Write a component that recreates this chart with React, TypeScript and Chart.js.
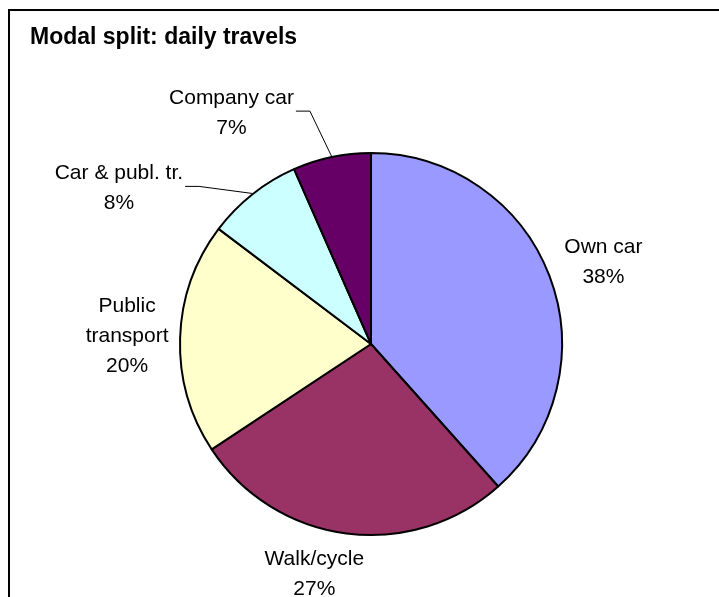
import React, { useEffect, useRef } from "react";
import { Chart, registerables } from "chart.js";

Chart.register(...registerables);

const titleText = "Modal split: daily travels";
const categories = ["Own car", "Walk/cycle", "Public\ntransport", "Car & publ. tr.", "Company car"];
const shares = [38.4, 27.3, 19.6, 8.1, 6.6];
const sliceColors = ["#9999FF", "#993366", "#FFFFCC", "#CCFFFF", "#660066"];
// offset of each label block centre from the slice's outer mid-point
const labelOffsets = [
  [53, -15],
  [-32, 38],
  [-52, -3],
  [-133, -7],
  [-100, -45],
];
const hasLeader = [false, false, false, true, true];

const FONT = '"Liberation Sans", Arial, sans-serif';

const labelPlugin = {
  id: "excelLabels",
  afterDatasetsDraw(chart: any) {
    const ctx = chart.ctx as CanvasRenderingContext2D;
    const meta = chart.getDatasetMeta(0);
    const data = chart.data.datasets[0].data as number[];
    const total = data.reduce((a, b) => a + b, 0);
    ctx.save();
    // title
    ctx.fillStyle = "#000";
    ctx.font = `bold 23px ${FONT}`;
    ctx.textAlign = "left";
    ctx.textBaseline = "alphabetic";
    ctx.fillText(titleText, 30, 44);

    ctx.font = `21px ${FONT}`;
    ctx.textAlign = "center";
    const lineH = 30;
    meta.data.forEach((arc: any, i: number) => {
      const p = arc.getProps(["x", "y", "startAngle", "endAngle", "outerRadius"], true);
      const mid = (p.startAngle + p.endAngle) / 2;
      const ax = p.x + Math.cos(mid) * (p.outerRadius + 1);
      const ay = p.y + Math.sin(mid) * (p.outerRadius + 1);
      const cx = ax + labelOffsets[i][0];
      const cy = ay + labelOffsets[i][1];
      const pct = Math.round((data[i] / total) * 100) + "%";
      const lines = [...String(chart.data.labels[i]).split("\n"), pct];
      const n = lines.length;
      let maxW = 0;
      lines.forEach((ln, k) => {
        const midY = cy + (k - (n - 1) / 2) * lineH;
        ctx.fillText(ln, cx, midY + 7.5);
        maxW = Math.max(maxW, ctx.measureText(ln).width);
      });
      if (hasLeader[i]) {
        const sx = cx + maxW / 2 + 2;
        const sy = cy;
        ctx.beginPath();
        ctx.strokeStyle = "#000";
        ctx.lineWidth = 1;
        ctx.moveTo(sx, sy);
        ctx.lineTo(sx + 14, sy);
        ctx.lineTo(ax, ay);
        ctx.stroke();
      }
    });
    ctx.restore();
  },
};

export default function App() {
  const ref = useRef<HTMLCanvasElement>(null);
  useEffect(() => {
    if (!ref.current) return;
    const chart = new Chart(ref.current, {
      type: "pie",
      data: {
        labels: categories,
        datasets: [
          {
            data: shares,
            backgroundColor: sliceColors,
            borderColor: "#000",
            borderWidth: 2,
          },
        ],
      },
      options: {
        animation: false,
        responsive: false,
        devicePixelRatio: 1,
        radius: 191,
        layout: { padding: { left: 23, right: 0, top: 91, bottom: 0 } },
        plugins: {
          legend: { display: false },
          title: { display: false },
          tooltip: { enabled: false },
        },
        events: [],
      } as any,
      plugins: [labelPlugin],
    });
    return () => chart.destroy();
  }, []);
  return (
    <div style={{ position: "fixed", left: 0, top: 0, width: 719, height: 597, background: "#fff", overflow: "hidden" }}>
      <div
        style={{
          position: "absolute",
          left: 8,
          top: 9,
          width: 711,
          height: 588,
          borderTop: "2px solid #000",
          borderLeft: "2px solid #000",
          boxSizing: "border-box",
        }}
      />
      <canvas ref={ref} width={719} height={597} style={{ position: "absolute", left: 0, top: 0, width: 719, height: 597 }} />
    </div>
  );
}
